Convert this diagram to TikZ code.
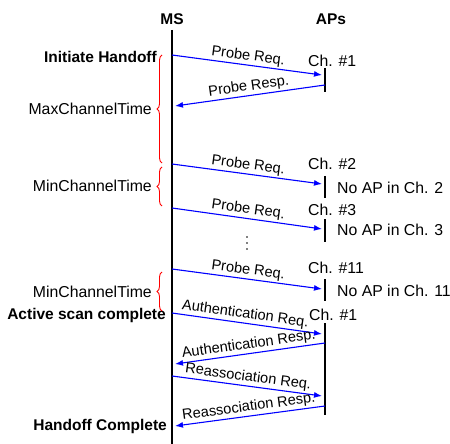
\documentclass[tikz,border=0pt]{standalone}
\usepackage{fontspec}
\setmainfont{Liberation Sans}
\usetikzlibrary{arrows.meta,decorations.pathreplacing}
\begin{document}
\begin{tikzpicture}[x=1bp,y=-1bp,
  lbl/.style={font=\fontsize{15.8bp}{18bp}\selectfont, inner sep=0pt},
  bld/.style={font=\fontsize{15.5bp}{18bp}\selectfont\bfseries, inner sep=0pt},
  msg/.style={blue, line width=1.1bp, -{Latex[length=8bp,width=6bp]}},
  msgb/.style={blue, line width=1.1bp, {Latex[length=8bp,width=6bp]}-},
  msgl/.style={midway, above, sloped, inner sep=1.5bp, font=\fontsize{14.6bp}{16bp}\selectfont, text=black},
  life/.style={line width=2bp, black},
  brc/.style={red, line width=0.9bp, decorate, decoration={brace, amplitude=5bp}}]
\useasboundingbox (0,0) rectangle (450,444);

% headers and lifelines
\node[bld] (ms) at (172,19) {MS};
\node[bld] (aps) at (331,19) {APs};
\coordinate (mstop) at (172,30);
\coordinate (msbot) at (172,444);
\draw[life] (mstop) -- (msbot);

% AP segments
\coordinate (a1t) at (325,68);  \coordinate (a1b) at (325,92);
\coordinate (a2t) at (325,176); \coordinate (a2b) at (325,198);
\coordinate (a3t) at (325,219); \coordinate (a3b) at (325,242);
\coordinate (a4t) at (325,279); \coordinate (a4b) at (325,301);
\coordinate (a5t) at (325,323); \coordinate (a5b) at (325,415);
\draw[life] (a1t) -- (a1b);
\draw[life] (a2t) -- (a2b);
\draw[life] (a3t) -- (a3b);
\draw[life] (a4t) -- (a4b);
\draw[life] (a5t) -- (a5b);

% channel labels
\node[lbl, anchor=west] (ch1) at (308,61) {Ch. \#1};
\node[lbl, anchor=west] (ch2) at (308,164) {Ch. \#2};
\node[lbl, anchor=west] (ch3) at (308,210) {Ch. \#3};
\node[lbl, anchor=west] (ch11) at (308,268) {Ch. \#11};
\node[lbl, anchor=west] (ch1b) at (309,315) {Ch. \#1};
\node[lbl, anchor=west] (na2) at (337,188) {No AP in Ch. 2};
\node[lbl, anchor=west] (na3) at (337,230) {No AP in Ch. 3};
\node[lbl, anchor=west] (na11) at (337,291) {No AP in Ch. 11};

% left labels
\node[bld, anchor=east] (ih) at (157,57) {Initiate Handoff};
\node[lbl, anchor=east] (maxc) at (152,109) {MaxChannelTime};
\node[lbl, anchor=east] (minc1) at (152,186) {MinChannelTime};
\node[lbl, anchor=east] (minc2) at (152,292) {MinChannelTime};
\node[bld, anchor=east] (asc) at (166,315) {Active scan complete};
\node[bld, anchor=east] (hc) at (167,426) {Handoff Complete};

% braces
\coordinate (b1t) at (162,55);  \coordinate (b1b) at (162,163);
\coordinate (b2t) at (162,167); \coordinate (b2b) at (162,206);
\coordinate (b3t) at (162,272); \coordinate (b3b) at (162,311);
\draw[brc] (b1b) -- (b1t);
\draw[brc] (b2b) -- (b2t);
\draw[brc] (b3b) -- (b3t);

% messages
\coordinate (s1) at (172,55);  \coordinate (e1) at (322,75);
\coordinate (s2) at (175,106); \coordinate (e2) at (325,85);
\coordinate (s3) at (172,164); \coordinate (e3) at (322,184);
\coordinate (s4) at (172,208); \coordinate (e4) at (322,229);
\coordinate (s5) at (172,269); \coordinate (e5) at (322,289);
\coordinate (s6) at (172,313); \coordinate (e6) at (322,334);
\coordinate (s7) at (175,364); \coordinate (e7) at (325,343);
\coordinate (s8) at (172,376); \coordinate (e8) at (322,396);
\coordinate (s9) at (175,426); \coordinate (e9) at (325,406);

\draw[msg]  (s1) -- node[msgl] {Probe Req.} (e1);
\draw[msgb] (s2) -- node[msgl] {Probe Resp.} (e2);
\draw[msg]  (s3) -- node[msgl] {Probe Req.} (e3);
\draw[msg]  (s4) -- node[msgl] {Probe Req.} (e4);
\draw[msg]  (s5) -- node[msgl] {Probe Req.} (e5);
\draw[msg]  (s6) -- node[msgl, pos=0.48] {Authentication Req.} (e6);
\draw[msgb] (s7) -- node[msgl] {Authentication Resp.} (e7);
\draw[msg]  (s8) -- node[msgl] {Reassociation Req.} (e8);
\draw[msgb] (s9) -- node[msgl] {Reassociation Resp.} (e9);

% vertical dots
\fill (247,237) circle (0.9bp);
\fill (247,243) circle (0.9bp);
\fill (247,249) circle (0.9bp);
\end{tikzpicture}
\end{document}
